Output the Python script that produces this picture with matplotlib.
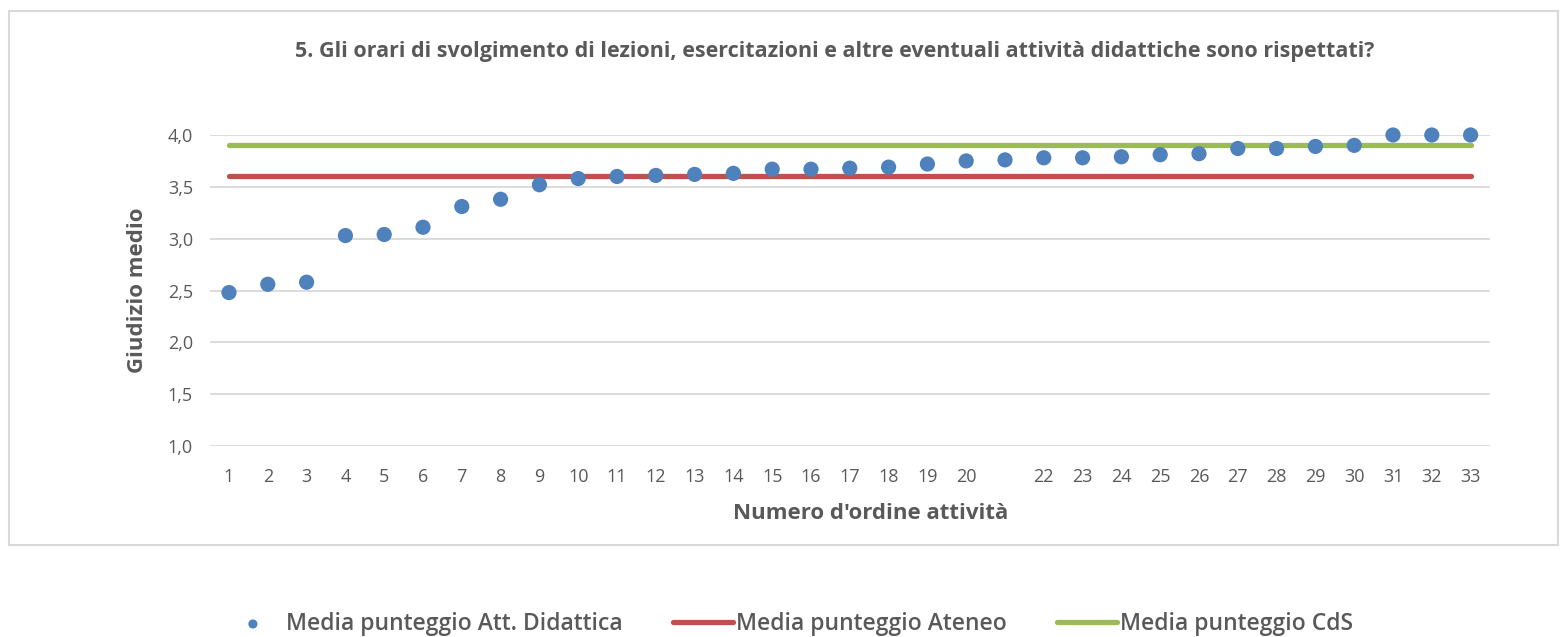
import matplotlib.pyplot as plt
from matplotlib.patches import Rectangle
import numpy as np

# data
labels = [str(i) for i in range(1, 34)]
labels[20] = ''  # label 21 is blank in the original
att_didattica = [2.48, 2.56, 2.58, 3.03, 3.04, 3.11, 3.31, 3.38, 3.52, 3.58,
                 3.60, 3.61, 3.62, 3.63, 3.67, 3.67, 3.68, 3.69, 3.72, 3.75,
                 3.76, 3.78, 3.78, 3.79, 3.81, 3.82, 3.87, 3.87, 3.89, 3.90,
                 4.00, 4.00, 4.00]
media_ateneo = 3.60
media_cds = 3.90

plt.rcParams['font.family'] = ['Open Sans', 'DejaVu Sans']
grey = '#595959'

fig = plt.figure(figsize=(15.61, 6.37), dpi=100)
fig.patches.append(Rectangle((9 / 1561, 1 - 545 / 637), 1549 / 1561, 534 / 637,
                             transform=fig.transFigure, fill=False,
                             edgecolor='#d9d9d9', linewidth=1.5))

ax = fig.add_axes([209.6 / 1561, 1 - 446 / 637, 1280.4 / 1561, 311 / 637])
x = np.arange(1, len(att_didattica) + 1)

ax.plot([x[0], x[-1]], [media_ateneo] * 2, color='#c0504d', lw=3.8,
        solid_capstyle='round', label='Media punteggio Ateneo', zorder=2)
ax.plot([x[0], x[-1]], [media_cds] * 2, color='#9bbb59', lw=3.8,
        solid_capstyle='round', label='Media punteggio CdS', zorder=2)
ax.scatter(x, att_didattica, s=120, color='#4f81bd', edgecolors='none',
           label='Media punteggio Att. Didattica', zorder=3, clip_on=False)

ax.set_xlim(0.5, len(att_didattica) + 0.5)
ax.set_ylim(1.0, 4.0)
ax.set_yticks(np.arange(1.0, 4.01, 0.5))
ax.set_yticklabels([f'{v:.1f}'.replace('.', ',') for v in np.arange(1.0, 4.01, 0.5)])
ax.set_xticks(x)
ax.set_xticklabels(labels)
ax.grid(axis='y', color='#d9d9d9', linewidth=1.3)
ax.set_axisbelow(True)
for s in ax.spines.values():
    s.set_visible(False)
ax.tick_params(length=0, labelsize=13, colors=grey)
ax.tick_params(axis='x', pad=16)
ax.tick_params(axis='y', pad=12)

ax.set_xlabel("Numero d'ordine attività", fontsize=16, fontweight='bold',
              color=grey, labelpad=12)
ax.xaxis.label.set_x(0.516)
ax.set_ylabel('Giudizio medio', fontsize=16, fontweight='bold', color=grey,
              labelpad=14)
fig.text(0.535, 1 - 52 / 637,
         '5. Gli orari di svolgimento di lezioni, esercitazioni e altre eventuali attività didattiche sono rispettati?',
         ha='center', va='center', fontsize=15.5, fontweight='bold', color=grey)

h, l = ax.get_legend_handles_labels()
order = [2, 0, 1]
fig.legend([h[i] for i in order], [l[i] for i in order], loc='center',
           bbox_to_anchor=(0.505, 1 - 624 / 637), ncol=3, frameon=False,
           labelcolor=grey, columnspacing=2.2, handlelength=2.6,
           handletextpad=0.15, markerscale=0.6,
           prop={'weight': 'semibold', 'size': 16.5})

plt.savefig('out.png', dpi=100)
